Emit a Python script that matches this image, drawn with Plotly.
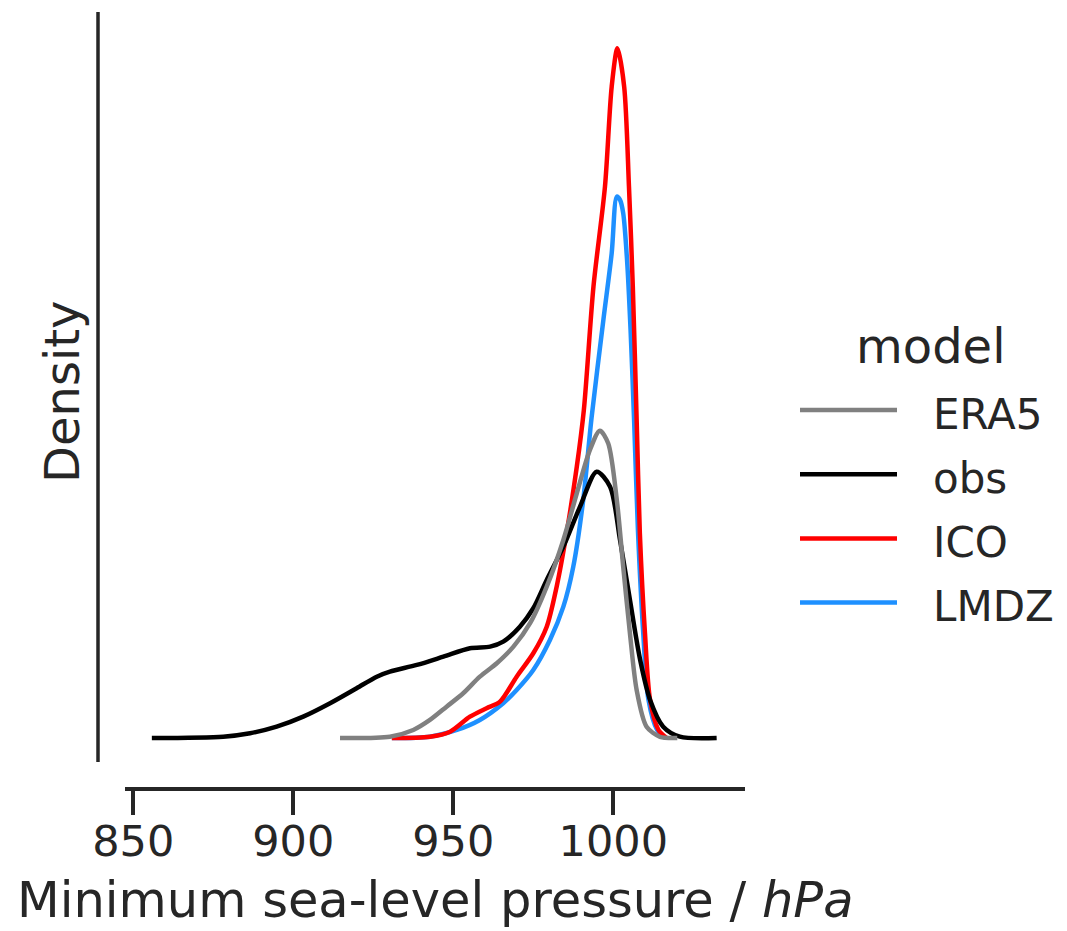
import plotly.graph_objects as go

# ---------------- data ----------------
models = ["ERA5", "obs", "ICO", "LMDZ"]
colors = ["grey", "black", "red", "dodgerblue"]

era5_p = [914.6, 930.2, 937.5, 942.7, 947.9, 953.1, 958.3, 963.6, 968.8, 974.0, 979.2,
          984.4, 988.6, 992.7, 995.8, 998.4, 1001.1, 1003.1, 1005.2, 1007.3, 1010.4, 1014.6, 1020.0]
era5_d = [0, 0.00011, 0.00066, 0.00148, 0.00257, 0.00367, 0.00503, 0.00613, 0.00749, 0.00941, 0.01241,
          0.01624, 0.02007, 0.02362, 0.02520, 0.02417, 0.01952, 0.01405, 0.00859, 0.00394, 0.00093, 0.0001, 0]

obs_p = [855.8, 878.1, 886.5, 894.8, 903.1, 911.5, 919.8, 926.1, 930.2, 938.6, 946.9, 955.2, 961.5,
         965.6, 970.8, 975.0, 979.2, 984.4, 989.6, 994.8, 999.0, 1002.1, 1005.2, 1008.4, 1011.5,
         1015.6, 1020.8, 1032.3]
obs_d = [0, 0.00011, 0.00039, 0.00093, 0.00175, 0.00285, 0.00408, 0.00503, 0.00544, 0.00599, 0.00667,
         0.00736, 0.00749, 0.00790, 0.00913, 0.01064, 0.01296, 0.01569, 0.01897, 0.02184, 0.02061,
         0.01624, 0.01132, 0.00640, 0.00312, 0.00093, 0.00011, 0]

ico_p = [930.8, 942.7, 949.0, 955.2, 960.4, 964.6, 969.8, 975.0, 979.2, 982.3, 985.4, 988.6, 990.8,
         993.8, 997.4, 999.5, 1001.3, 1003.4, 1004.9, 1006.1, 1007.3, 1008.3, 1009.9, 1011.5, 1014.1, 1016.7]
ico_d = [0, 0.00011, 0.00052, 0.00175, 0.00244, 0.00298, 0.00503, 0.00695, 0.00913, 0.01241, 0.01679,
         0.02225, 0.02690, 0.03701, 0.04521, 0.05341, 0.05656, 0.05341, 0.04521, 0.03701, 0.02608,
         0.01679, 0.00859, 0.00312, 0.00066, 0]

lmdz_p = [930.8, 942.7, 951.1, 958.3, 965.6, 969.8, 975.0, 980.2, 984.4, 987.5, 990.6, 993.2, 996.9,
          999.5, 1001.1, 1002.1, 1003.1, 1004.3, 1005.4, 1006.5, 1007.7, 1009.3, 1011.0, 1013.7, 1016.2]
lmdz_d = [0, 0.00011, 0.00066, 0.00148, 0.00285, 0.00394, 0.00558, 0.00804, 0.01077, 0.01405, 0.01952,
          0.02624, 0.03428, 0.03975, 0.04439, 0.04412, 0.04303, 0.03920, 0.03346, 0.02608, 0.01706,
          0.00886, 0.00312, 0.00066, 0]

x_ticks = [850, 900, 950, 1000]
x_title = "Minimum sea-level pressure / <i>hPa</i>"
y_title = "Density"
legend_title = "model"

series = {
    "ERA5": (era5_p, era5_d),
    "obs": (obs_p, obs_d),
    "ICO": (ico_p, ico_d),
    "LMDZ": (lmdz_p, lmdz_d),
}

# ---------------- layout geometry ----------------
W, H = 1067, 931
L, R, T, B = 125, 322, 12, 144
PW = W - L - R
PH = H - T - B
FONT = "DejaVu Sans"
INK = "#262626"


def fx(px):
    return (px - L) / PW


def fy(py):
    return (H - B - py) / PH


fig = go.Figure()

# seaborn draws the last hue level first
for name, col in reversed(list(zip(models, colors))):
    p, d = series[name]
    fig.add_trace(go.Scatter(
        x=p, y=d, mode="lines", name=name,
        line=dict(color=col, width=4.5, shape="spline", smoothing=0.8),
        showlegend=False,
    ))

shapes = []
annotations = []

# offset left spine
shapes.append(dict(type="line", xref="paper", yref="paper",
                   x0=fx(98), x1=fx(98), y0=fy(762), y1=fy(12),
                   line=dict(color=INK, width=3.5)))

# axis titles
annotations.append(dict(text=x_title, xref="paper", yref="paper",
                        x=fx(435), y=fy(900), xanchor="center", yanchor="middle",
                        showarrow=False, font=dict(family=FONT, size=49.5, color=INK)))
annotations.append(dict(text=y_title, xref="paper", yref="paper",
                        x=fx(62), y=fy(392), xanchor="center", yanchor="middle",
                        textangle=-90, showarrow=False,
                        font=dict(family=FONT, size=48, color=INK)))

# legend (drawn manually to match the long matplotlib handles)
annotations.append(dict(text=legend_title, xref="paper", yref="paper",
                        x=fx(930), y=fy(346), xanchor="center", yanchor="middle",
                        showarrow=False, font=dict(family=FONT, size=48, color=INK)))
for i, (name, col) in enumerate(zip(models, colors)):
    ly = 410 + i * 64.2
    shapes.append(dict(type="line", xref="paper", yref="paper",
                       x0=fx(800), x1=fx(897), y0=fy(ly), y1=fy(ly),
                       line=dict(color=col, width=4.5)))
    annotations.append(dict(text=name, xref="paper", yref="paper",
                            x=fx(931), y=fy(ly + 4), xanchor="left", yanchor="middle",
                            showarrow=False, font=dict(family=FONT, size=42, color=INK)))

fig.update_layout(
    width=W, height=H,
    margin=dict(l=L, r=R, t=T, b=B, pad=0),
    paper_bgcolor="white", plot_bgcolor="white",
    font=dict(family=FONT, color=INK),
    showlegend=False,
    shapes=shapes,
    annotations=annotations,
    xaxis=dict(
        range=[847.41, 1041.16],
        tickmode="array", tickvals=x_ticks, ticktext=[str(t) for t in x_ticks],
        ticks="outside", ticklen=24, tickwidth=3.5, tickcolor=INK,
        tickfont=dict(family=FONT, size=43, color=INK),
        ticklabelstandoff=-10,
        showline=True, linecolor=INK, linewidth=3.5,
        showgrid=False, zeroline=False, automargin=False,
    ),
    yaxis=dict(
        range=[-0.004018, 0.059532],
        showticklabels=False, ticks="", showline=False,
        showgrid=False, zeroline=False, automargin=False,
    ),
)

fig.write_html(
    "out.html",
    config={"displayModeBar": False},
    post_script="document.body.style.margin='0px';document.body.style.overflow='hidden';",
)
